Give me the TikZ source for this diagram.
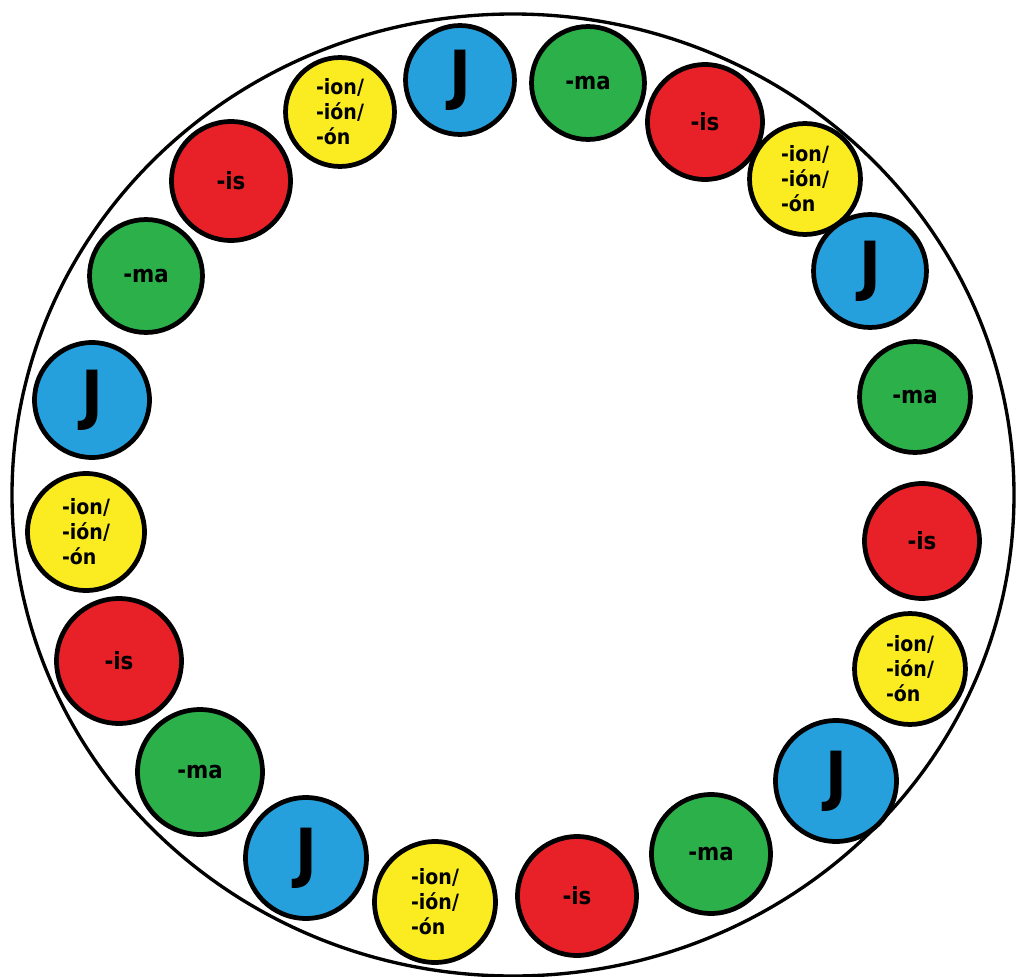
\documentclass[tikz,border=0pt]{standalone}
\usepackage{fontspec}
\newfontfamily\beadfont{DejaVu Sans Condensed}
\definecolor{jblue}{RGB}{38,160,220}
\definecolor{magreen}{RGB}{44,176,74}
\definecolor{isred}{RGB}{232,33,40}
\definecolor{ionyellow}{RGB}{250,236,33}

\begin{document}
\begin{tikzpicture}[x=0.02cm, y=-0.02cm,
    bead/.style={circle, draw=black, line width=2.7pt, inner sep=0pt, minimum size={(#1-2.5)*0.04cm}},
    jbead/.style={bead=#1, fill=jblue, font=\beadfont\bfseries\fontsize{37}{37}\selectfont},
    mabead/.style={bead=#1, fill=magreen, font=\beadfont\bfseries\fontsize{13.5}{15}\selectfont},
    isbead/.style={bead=#1, fill=isred, font=\beadfont\bfseries\fontsize{13.5}{15}\selectfont},
    ionbead/.style={bead=#1, fill=ionyellow, align=left, font=\beadfont\bfseries\fontsize{12}{14.2}\selectfont}]
    \useasboundingbox (0, 0) rectangle (1019, 977);

    % Outer ring
    \coordinate (hub) at (513, 495);
    \draw[line width=1.9pt] (hub) ellipse [x radius=501, y radius=481];

    % Top arc
    \node[jbead=57] (j1) at (460, 80) {J};
    \node[mabead=59] (ma1) at (588, 83) {-ma};
    \node[isbead=60] (is1) at (705, 122) {-is};
    \node[ionbead=58] (ion1) at (805, 179) {-ion/\\-ión/\\-ón};

    % Right side
    \node[jbead=59] (j2) at (870, 271) {J};
    \node[mabead=58] (ma2) at (915, 397) {-ma};
    \node[isbead=60] (is2) at (922, 541) {-is};
    \node[ionbead=58] (ion2) at (910, 669) {-ion/\\-ión/\\-ón};

    % Bottom arc
    \node[jbead=63] (j3) at (836, 781) {J};
    \node[mabead=62] (ma3) at (711, 854) {-ma};
    \node[isbead=62] (is3) at (577, 896) {-is};
    \node[ionbead=63] (ion3) at (435, 902) {-ion/\\-ión/\\-ón};
    \node[jbead=63] (j4) at (306, 858) {J};

    % Left side
    \node[mabead=65] (ma4) at (200, 772) {-ma};
    \node[isbead=65] (is4) at (119, 661) {-is};
    \node[ionbead=61] (ion4) at (86, 532) {-ion/\\-ión/\\-ón};
    \node[jbead=60] (j5) at (92, 400) {J};
    \node[mabead=59] (ma5) at (146, 276) {-ma};
    \node[isbead=62] (is5) at (231, 181) {-is};
    \node[ionbead=57] (ion5) at (340, 112) {-ion/\\-ión/\\-ón};
\end{tikzpicture}
\end{document}
